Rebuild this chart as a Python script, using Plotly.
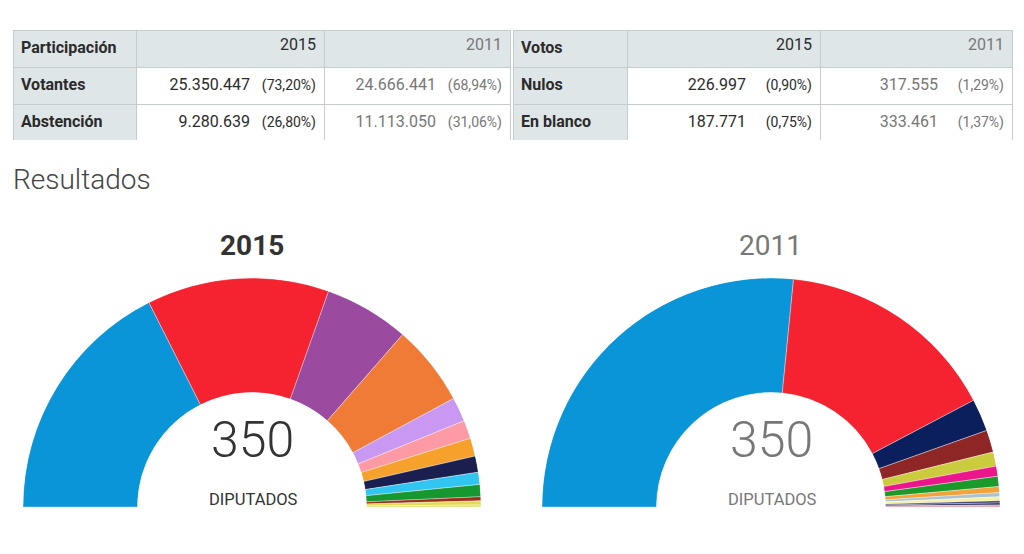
import plotly.graph_objects as go

# ---------------- data ----------------
part_labels = ["Votantes", "Abstención"]
part_2015 = ["25.350.447", "9.280.639"]
part_2015_pct = ["73,20%", "26,80%"]
part_2011 = ["24.666.441", "11.113.050"]
part_2011_pct = ["68,94%", "31,06%"]

votos_labels = ["Nulos", "En blanco"]
votos_2015 = ["226.997", "187.771"]
votos_2015_pct = ["0,90%", "0,75%"]
votos_2011 = ["317.555", "333.461"]
votos_2011_pct = ["1,29%", "1,37%"]

parties_2015 = ["PP", "PSOE", "Podemos", "Ciudadanos", "En Comú Podem", "Compromís-Podemos",
                "ERC", "DL", "En Marea", "PNV", "IU-UP", "EH Bildu", "CC-PNC"]
seats_2015 = [123, 90, 42, 40, 12, 9, 9, 8, 6, 6, 2, 2, 1]
colors_2015 = ["#0995d8", "#f5222f", "#9a4a9f", "#ef7b37", "#c998f2", "#fd9aa3",
               "#f6a12b", "#1b1f50", "#31c6f1", "#16972f", "#9e2c1a", "#e2dc55", "#d8e36a"]

parties_2011 = ["PP", "PSOE", "CiU", "IU-LV", "Amaiur", "UPyD", "PNV", "ERC", "BNG",
                "CC-NC-PNC", "Compromís-Q", "FAC", "GBAI"]
seats_2011 = [186, 110, 16, 11, 7, 5, 5, 3, 2, 2, 1, 1, 1]
colors_2011 = ["#0995d8", "#f5222f", "#0b1f5c", "#8f2626", "#cbcb3e", "#ec168c", "#1b9a2b",
               "#f4a23a", "#a9c3d2", "#f5f2a8", "#34356e", "#1d2356", "#e79aa3"]

FONT = "Roboto"
DARK = "#2b2b2b"
GREY = "#777777"

# page body has an 8px margin; figure sized to fit the window
OFF = 8
W, H = 1024 - 2 * OFF, 554 - 2 * OFF


def px(x):
    return (x - OFF) / W


def py(y):
    return 1 - (y - OFF) / H


def cell(num, pct):
    pad = "&nbsp;" * (3 if len(pct) >= 6 else 5)
    # trailing <br> keeps plotly's table from word-wrapping inside the span tag
    return f"{num}{pad}<span style='font-size:14px'>({pct})</span><br>"


fig = go.Figure()

# ---------------- tables ----------------
def add_table(title, labels, v15, p15, v11, p11, x0, x1, widths):
    fig.add_trace(go.Table(
        domain=dict(x=[px(x0), px(x1)], y=[py(141), py(30)]),
        columnwidth=widths,
        header=dict(
            values=[f"<b>{title}</b>", "2015", "2011"],
            align=["left", "right", "right"],
            fill_color="#dfe6e8",
            line=dict(color="#c3cdd0", width=1),
            font=dict(family=FONT, size=16, color=[DARK, DARK, GREY]),
            height=37,
        ),
        cells=dict(
            values=[[f"<b>{l}</b>" for l in labels],
                    [cell(n, p) for n, p in zip(v15, p15)],
                    [cell(n, p) for n, p in zip(v11, p11)]],
            align=["left", "right", "right"],
            fill_color=[["#dfe6e8"] * len(labels), ["white"] * len(labels), ["white"] * len(labels)],
            line=dict(color="#c3cdd0", width=1),
            font=dict(family=FONT, size=16, color=[DARK, DARK, GREY]),
            height=37,
        ),
    ))


add_table("Participación", part_labels, part_2015, part_2015_pct, part_2011, part_2011_pct,
          13, 510, [123, 188, 186])
add_table("Votos", votos_labels, votos_2015, votos_2015_pct, votos_2011, votos_2011_pct,
          513, 1012, [114, 193, 192])

# ---------------- hemicycles ----------------
def add_hemicycle(seats, colors, names, polar):
    total = sum(seats)
    widths = [s * 180 / total for s in seats]
    centers = []
    acc = 0
    for w in widths:
        centers.append(acc + w / 2)
        acc += w
    fig.add_trace(go.Barpolar(
        r=[1] * len(seats), theta=centers, width=widths, base=0,
        marker=dict(color=colors, line=dict(color="rgba(255,255,255,0.6)", width=0.6)),
        text=names, customdata=seats, hovertemplate="%{text}: %{customdata}<extra></extra>",
        subplot=polar, showlegend=False,
    ))
    return total


total_2015 = add_hemicycle(seats_2015, colors_2015, parties_2015, "polar")
total_2011 = add_hemicycle(seats_2011, colors_2011, parties_2011, "polar2")

polar_common = dict(
    sector=[0, 180], hole=0.5, bgcolor="white",
    radialaxis=dict(range=[0, 1], visible=False, showgrid=False),
    angularaxis=dict(rotation=180, direction="clockwise", visible=False, showgrid=False),
)

fig.update_layout(
    width=W, height=H,
    margin=dict(l=0, r=0, t=0, b=0),
    paper_bgcolor="white",
    font=dict(family=FONT, color=DARK),
    polar=dict(domain=dict(x=[px(23), px(481)], y=[py(507), py(278)]), **polar_common),
    polar2=dict(domain=dict(x=[px(542), px(1000)], y=[py(507), py(278)]), **polar_common),
)


def ann(text, x, y, size, color, weight=400, xanchor="center"):
    fig.add_annotation(text=text, x=px(x), y=py(y), xref="paper", yref="paper",
                       xanchor=xanchor, yanchor="middle", showarrow=False,
                       font=dict(family=FONT, size=size, color=color, weight=weight))


ann("Resultados", 11, 180, 28, "#444444", weight=300, xanchor="left")
ann("2015", 252, 245, 28, "#333333", weight=700)
ann("2011", 770, 245, 28, GREY, weight=400)
ann(str(total_2015), 252, 440, 50, "#333333", weight=300)
ann(str(total_2011), 771, 440, 50, GREY, weight=300)
ann("DIPUTADOS", 253, 499, 16.5, "#333333")
ann("DIPUTADOS", 772, 499, 16.5, GREY)

fig.write_html("out.html")
